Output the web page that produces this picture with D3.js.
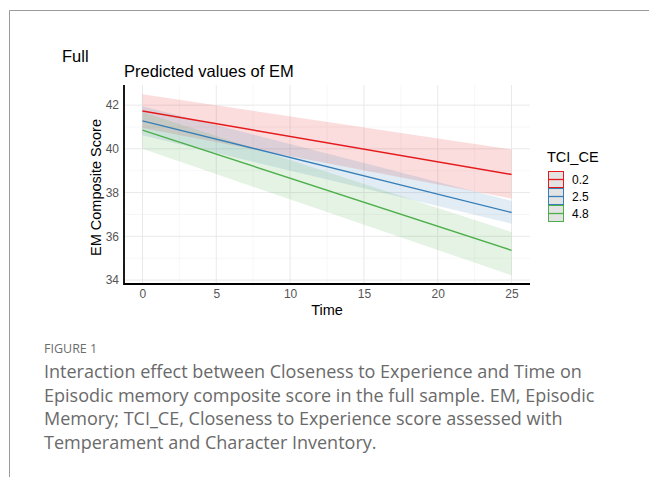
<!DOCTYPE html>
<html>
<head>
<meta charset="utf-8">
<script src="https://cdn.jsdelivr.net/npm/d3@7"></script>
<style>
  html, body { margin: 0; padding: 0; background: #fff; }
  svg { display: block; }
</style>
</head>
<body>
<svg id="chart" width="649" height="477"></svg>
<script>
// predicted values (sjPlot style)
const groups = ['0.2', '2.5', '4.8'];
const colors = ['#e41a1c', '#377eb8', '#4daf4a'];
const timePoints = [0, 25];
const predicted = [
  [41.73, 38.83],
  [41.28, 37.09],
  [40.86, 35.36]
];
const ciLow = [
  [40.95, 37.73],
  [40.62, 36.58],
  [40.00, 34.22]
];
const ciHigh = [
  [42.50, 39.97],
  [41.95, 37.62],
  [41.68, 36.20]
];
const xTicks = [0, 5, 10, 15, 20, 25];
const yTicks = [34, 36, 38, 40, 42];
const captionLines = [
  'Interaction effect between Closeness to Experience and Time on',
  'Episodic memory composite score in the full sample. EM, Episodic',
  'Memory; TCI_CE, Closeness to Experience score assessed with',
  'Temperament and Character Inventory.'
];

const svg = d3.select('#chart');
const chartFont = '"Liberation Sans", Arial, sans-serif';

// outer frame (only top + left edges visible)
svg.append('path')
  .attr('d', 'M9.5,477 L9.5,10.5 L649,10.5')
  .attr('fill', 'none')
  .attr('stroke', '#9a9a9a')
  .attr('stroke-width', 1);

// panel
const panel = { left: 124, right: 530, top: 85, bottom: 284 };
const x = d3.scaleLinear().domain([-1.25, 26.25]).range([panel.left, panel.right]);
const y = d3.scaleLinear().domain([33.82, 42.92]).range([panel.bottom, panel.top]);

const grid = svg.append('g');
// minor grid
d3.range(-2.5, 27.5, 5).filter(v => v > -1.25 && v < 26.25).forEach(v => {
  grid.append('line').attr('x1', x(v)).attr('x2', x(v)).attr('y1', panel.top).attr('y2', panel.bottom)
    .attr('stroke', '#f2f2f2').attr('stroke-width', 0.6);
});
[35, 37, 39, 41].forEach(v => {
  grid.append('line').attr('x1', panel.left).attr('x2', panel.right).attr('y1', y(v)).attr('y2', y(v))
    .attr('stroke', '#f2f2f2').attr('stroke-width', 0.6);
});
// major grid
xTicks.forEach(v => {
  grid.append('line').attr('x1', x(v)).attr('x2', x(v)).attr('y1', panel.top).attr('y2', panel.bottom)
    .attr('stroke', '#e9e9e9').attr('stroke-width', 1);
});
yTicks.forEach(v => {
  grid.append('line').attr('x1', panel.left).attr('x2', panel.right).attr('y1', y(v)).attr('y2', y(v))
    .attr('stroke', '#e9e9e9').attr('stroke-width', 1);
});

// ribbons
const area = d3.area()
  .x((d, i) => x(timePoints[i]))
  .y0(d => y(d[0]))
  .y1(d => y(d[1]));

groups.forEach((g, k) => {
  const pts = timePoints.map((t, i) => [ciLow[k][i], ciHigh[k][i]]);
  svg.append('path')
    .attr('d', area(pts))
    .attr('fill', colors[k])
    .attr('fill-opacity', 0.15);
});

// lines
const line = d3.line().x((d, i) => x(timePoints[i])).y(d => y(d));
groups.forEach((g, k) => {
  svg.append('path')
    .attr('d', line(predicted[k]))
    .attr('fill', 'none')
    .attr('stroke', colors[k])
    .attr('stroke-width', 1.4);
});

// axes
const xAxis = svg.append('g')
  .attr('transform', `translate(0,${panel.bottom})`)
  .call(d3.axisBottom(x).tickValues(xTicks).tickSize(0).tickPadding(5));
const yAxis = svg.append('g')
  .attr('transform', `translate(${panel.left},0)`)
  .call(d3.axisLeft(y).tickValues(yTicks).tickSize(0).tickPadding(5));
[xAxis, yAxis].forEach(a => {
  a.select('.domain').remove();
  a.selectAll('text')
    .attr('fill', '#555')
    .style('font-family', chartFont)
    .style('font-size', '12px');
});
svg.append('line').attr('x1', panel.left).attr('x2', panel.right)
  .attr('y1', panel.bottom).attr('y2', panel.bottom)
  .attr('stroke', '#000').attr('stroke-width', 1.8);
svg.append('line').attr('x1', panel.left).attr('x2', panel.left)
  .attr('y1', panel.top).attr('y2', panel.bottom + 0.9)
  .attr('stroke', '#000').attr('stroke-width', 1.8);

// axis titles
svg.append('text')
  .attr('x', x(12.5)).attr('y', 315)
  .attr('text-anchor', 'middle')
  .style('font-family', chartFont).style('font-size', '14.5px')
  .attr('fill', '#000')
  .text('Time');
svg.append('text')
  .attr('transform', `translate(101,${(panel.top + panel.bottom) / 2 + 3}) rotate(-90)`)
  .attr('text-anchor', 'middle')
  .style('font-family', chartFont).style('font-size', '14.5px')
  .attr('fill', '#000')
  .text('EM Composite Score');

// titles
svg.append('text')
  .attr('x', 62).attr('y', 62)
  .style('font-family', chartFont).style('font-size', '16.5px')
  .attr('fill', '#000')
  .text('Full');
svg.append('text')
  .attr('x', 124).attr('y', 77)
  .style('font-family', chartFont).style('font-size', '16.5px')
  .attr('fill', '#000')
  .text('Predicted values of EM');

// legend
const legend = svg.append('g').attr('transform', 'translate(548,0)');
legend.append('text')
  .attr('x', -1).attr('y', 162)
  .style('font-family', chartFont).style('font-size', '14.5px')
  .attr('fill', '#000')
  .text('TCI_CE');
groups.forEach((g, k) => {
  const top = 171 + k * 17;
  legend.append('rect')
    .attr('x', 0.5).attr('y', top + 0.5)
    .attr('width', 15).attr('height', 16)
    .attr('fill', '#e3e3e3')
    .attr('stroke', colors[k]).attr('stroke-width', 1);
  legend.append('line')
    .attr('x1', 0.5).attr('x2', 15.5)
    .attr('y1', top + 8.5).attr('y2', top + 8.5)
    .attr('stroke', colors[k]).attr('stroke-width', 1.3);
  legend.append('text')
    .attr('x', 24).attr('y', top + 12.5)
    .style('font-family', chartFont).style('font-size', '12px')
    .attr('fill', '#000')
    .text(g);
});

// caption
const capFont = '"Open Sans", "Noto Sans", sans-serif';
svg.append('text')
  .attr('x', 44).attr('y', 353)
  .style('font-family', capFont).style('font-size', '12.5px')
  .attr('fill', '#6d6d6d')
  .text('FIGURE 1');
const cap = svg.append('g');
captionLines.forEach((t, i) => {
  cap.append('text')
    .attr('x', 44).attr('y', 378 + i * 23.5)
    .style('font-family', capFont).style('font-size', '18px')
    .attr('fill', '#6a6a6a')
    .text(t);
});
// fit the caption width to the picture (second line ends near x=595)
const w2 = cap.selectAll('text').nodes()[1].getComputedTextLength();
const fs = 18 * (595 - 44) / w2;
cap.selectAll('text').style('font-size', fs + 'px');
</script>
</body>
</html>
